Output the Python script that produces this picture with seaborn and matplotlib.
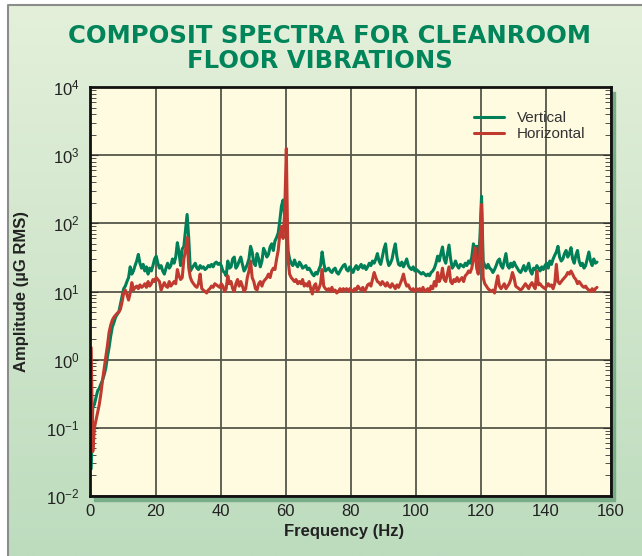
import numpy as np
import pandas as pd
import matplotlib
matplotlib.use("Agg")
import matplotlib.pyplot as plt
from matplotlib.colors import LinearSegmentedColormap
from matplotlib.lines import Line2D
from matplotlib.patches import Rectangle
import seaborn as sns

# amplitude (ug RMS), one value every 0.5 Hz
vertical_amp = [
    0.025, 0.2, 0.22, 0.28, 0.35, 0.38, 0.44, 0.5, 0.6, 0.75, 1.1, 1.5, 2.2, 3.0, 3.5, 4.2, 4.6, 5.0, 6.5, 8.5,
    11, 12, 14, 16, 23, 18, 20, 24, 28, 35, 26, 22, 25, 20, 23, 18, 22, 20, 24, 30,
    33, 26, 22, 24, 20, 18, 22, 26, 22, 24, 30, 26, 32, 52, 38, 24, 42, 46, 80, 135,
    60, 20, 22, 24, 26, 22, 21, 24, 22, 23, 21, 22, 24, 23, 25, 23, 26, 27, 25, 26,
    24, 20, 19, 17, 28, 22, 23, 30, 32, 22, 24, 28, 32, 25, 20, 22, 25, 30, 46, 38,
    26, 24, 36, 30, 23, 28, 43, 38, 32, 35, 45, 50, 40, 55, 62, 72, 110, 180, 220, 120,
    130, 40, 30, 26, 24, 29, 25, 23, 27, 25, 22, 23, 24, 21, 22, 20, 18, 17, 19, 18,
    21, 24, 38, 26, 20, 21, 22, 20, 19, 21, 22, 19, 18, 20, 22, 24, 25, 21, 20, 23,
    21, 19, 22, 24, 21, 23, 25, 22, 24, 21, 23, 26, 24, 28, 26, 30, 36, 28, 25, 32,
    42, 50, 30, 24, 26, 30, 40, 50, 32, 25, 24, 27, 23, 26, 30, 24, 22, 21, 23, 20,
    21, 20, 19, 18, 19, 18, 17, 18, 17, 19, 20, 22, 26, 33, 28, 36, 45, 30, 26, 35,
    48, 30, 22, 24, 28, 24, 22, 25, 24, 23, 26, 24, 28, 26, 32, 50, 42, 46, 30, 60,
    250, 28, 24, 22, 25, 22, 21, 19, 21, 24, 28, 30, 24, 22, 28, 36, 24, 22, 26, 23,
    27, 24, 22, 20, 19, 21, 24, 20, 22, 26, 20, 18, 22, 21, 24, 22, 20, 23, 21, 24,
    26, 22, 28, 25, 30, 34, 38, 46, 32, 28, 30, 36, 40, 32, 36, 44, 30, 26, 34, 40,
    28, 24, 26, 22, 24, 30, 38, 28, 24, 30, 26, 27,
]
horizontal_amp = [
    1.5, 0.045, 0.1, 0.13, 0.17, 0.22, 0.32, 0.5, 0.75, 1.1, 1.6, 2.5, 3.2, 3.8, 4.2, 4.5, 4.8, 5.0, 5.5, 7.0,
    9.5, 10.5, 9, 7.5, 9.5, 13.5, 10.5, 11.5, 12, 11, 12.5, 11.5, 12, 13, 11.5, 14, 12, 13, 15, 14,
    16, 15, 14, 10.5, 12, 13.5, 12, 11.5, 14, 12, 13, 14, 13, 21, 17, 15, 16, 30, 40, 62,
    22, 16, 14, 13, 12, 11.5, 13, 18, 11, 10.5, 10, 9.5, 10.5, 11, 12, 11.5, 13, 12.5, 12, 11.5,
    13, 12, 10, 11, 17, 13, 14, 11, 10, 13, 15, 12, 14, 12, 10, 11, 16, 20, 28, 16,
    14, 11, 10.5, 13, 14, 12, 14, 15, 16, 18, 16, 20, 22, 21, 30, 40, 70, 90, 60, 150,
    1250, 30, 18, 16, 15, 14, 15, 13, 14, 13, 15, 12, 13, 12, 14, 11, 9.2, 12, 13, 10,
    11, 13, 21, 12, 11, 10.5, 11, 10, 11.5, 10, 10.5, 9.5, 10, 11, 10, 11, 10.5, 11, 10, 11,
    10.5, 10, 11, 10.5, 12, 11, 10.5, 11.5, 10, 11, 12.5, 13, 12, 15, 19, 16, 14, 13.5, 12.5, 14,
    13, 12, 13.5, 12, 11.5, 13, 12, 11, 12.5, 11.5, 13, 15, 18, 14, 12, 12.5, 11, 10.5, 11, 10,
    11, 10.5, 11, 10, 11.5, 10, 10.5, 11, 10, 12, 11, 14, 12, 19, 14, 16, 22, 15, 14, 18,
    23, 14, 13, 15, 14, 16, 14, 15, 16, 14, 17, 18, 20, 19, 22, 30, 44, 22, 18, 40,
    190, 16, 13, 12, 11, 10.5, 10, 10.5, 9.5, 13, 17, 12, 11, 12, 13, 11, 12, 13, 15, 19,
    16, 12, 11.5, 11, 10.5, 11, 12, 13, 12, 11, 12.5, 13.5, 12, 11, 20, 12.5, 13, 12, 11.5, 11,
    12, 13, 12, 12.5, 11, 13, 25, 14, 13, 14, 15, 16, 17, 19, 18, 20, 18, 16, 15, 13,
    14, 13, 12, 11.5, 12, 11, 10.5, 10, 11, 10, 11, 11.5,
]
freq_start = 0.2
freq_step = 0.5
series_names = ["Vertical", "Horizontal"]
series_colors = ["#008058", "#c03a30"]
x_ticks = [0, 20, 40, 60, 80, 100, 120, 140, 160]
y_exponents = [-2, -1, 0, 1, 2, 3, 4]
title_lines = ["COMPOSIT SPECTRA FOR CLEANROOM", "FLOOR VIBRATIONS"]
bg_colors = ["#e4f0da", "#bddcbe"]

freq = freq_start + np.arange(len(vertical_amp)) * freq_step
df = pd.concat([
    pd.DataFrame({"freq": freq, "amp": vertical_amp, "series": "Vertical"}),
    pd.DataFrame({"freq": freq, "amp": horizontal_amp, "series": "Horizontal"}),
])

sns.set_style("white")
plt.rcParams["font.family"] = ["Liberation Sans Narrow", "Liberation Sans", "DejaVu Sans"]

W, H = 642, 556
fig = plt.figure(figsize=(W / 100, H / 100), dpi=100)

# green gradient panel with grey border, white margin top/left
bg = fig.add_axes([0, 0, 1, 1], zorder=-10)
bg.set_facecolor("white")
cmap = LinearSegmentedColormap.from_list("panel", bg_colors)
bg.imshow(np.linspace(0, 1, 256)[:, None], cmap=cmap, aspect="auto",
          extent=[8, W, H, 5], origin="upper")
bg.plot([8, 8, W], [H, 5, 5], color="#8c8c8c", lw=1.5)
bg.set_xlim(0, W)
bg.set_ylim(H, 0)
bg.axis("off")

ax_rect = [90.5 / W, 1 - 496 / H, 520.5 / W, 409 / H]
shadow = Rectangle((ax_rect[0] + 4 / W, ax_rect[1] - 5 / H), ax_rect[2], ax_rect[3],
                   transform=fig.transFigure, color="#78ad88", zorder=-5)
fig.patches.append(shadow)

ax = fig.add_axes(ax_rect)
ax.set_facecolor("#fffbe1")
sns.lineplot(data=df, x="freq", y="amp", hue="series", hue_order=series_names,
             palette=dict(zip(series_names, series_colors)), linewidth=2.2,
             estimator=None, sort=False, legend=False, ax=ax)
ax.set_yscale("log")
ax.set_xlim(0, 160)
ax.set_ylim(1e-2, 1e4)
ax.set_axisbelow(True)
ax.grid(True, which="major", color="#55554a", lw=1.3)
ax.grid(False, which="minor")

ax.set_xticks(x_ticks)
ax.set_xticklabels([str(t) for t in x_ticks])
ax.set_yticks([10.0 ** e for e in y_exponents])
ax.set_yticklabels([r"$\mathregular{10^{%d}}$" % e for e in y_exponents])
ax.tick_params(axis="x", length=0, pad=6, labelsize=12, labelcolor="#222222")
ax.tick_params(axis="y", which="major", direction="in", length=6, left=True, right=True,
               pad=8, labelsize=12, labelcolor="#222222", color="#333333")
ax.tick_params(axis="y", which="minor", direction="in", length=4, left=True, right=True,
               color="#333333")
for s in ax.spines.values():
    s.set_color("#111111")
    s.set_linewidth(2)

ax.set_xlabel("Frequency (Hz)", fontsize=12, weight="bold", color="#222222")
ax.set_ylabel("Amplitude (\u00b5G RMS)", fontsize=12, weight="bold", color="#222222")
ax.xaxis.set_label_coords(0.488, -0.068)
ax.yaxis.set_label_coords(-0.118, 0.5)

handles = [Line2D([], [], color=c, lw=2.2) for c in series_colors]
ax.legend(handles, series_names, loc="upper left", bbox_to_anchor=(0.71, 0.975),
          frameon=False, fontsize=11, handlelength=2.0, handletextpad=0.8,
          labelspacing=0.15, labelcolor="#333333")

fig.text(330 / W, 1 - 36 / H, title_lines[0], ha="center", va="center", fontsize=17.5,
         weight="bold", color="#00845a", family="DejaVu Sans")
fig.text(320 / W, 1 - 61 / H, title_lines[1], ha="center", va="center", fontsize=17.5,
         weight="bold", color="#00845a", family="DejaVu Sans")

fig.savefig("out.png", dpi=100)
